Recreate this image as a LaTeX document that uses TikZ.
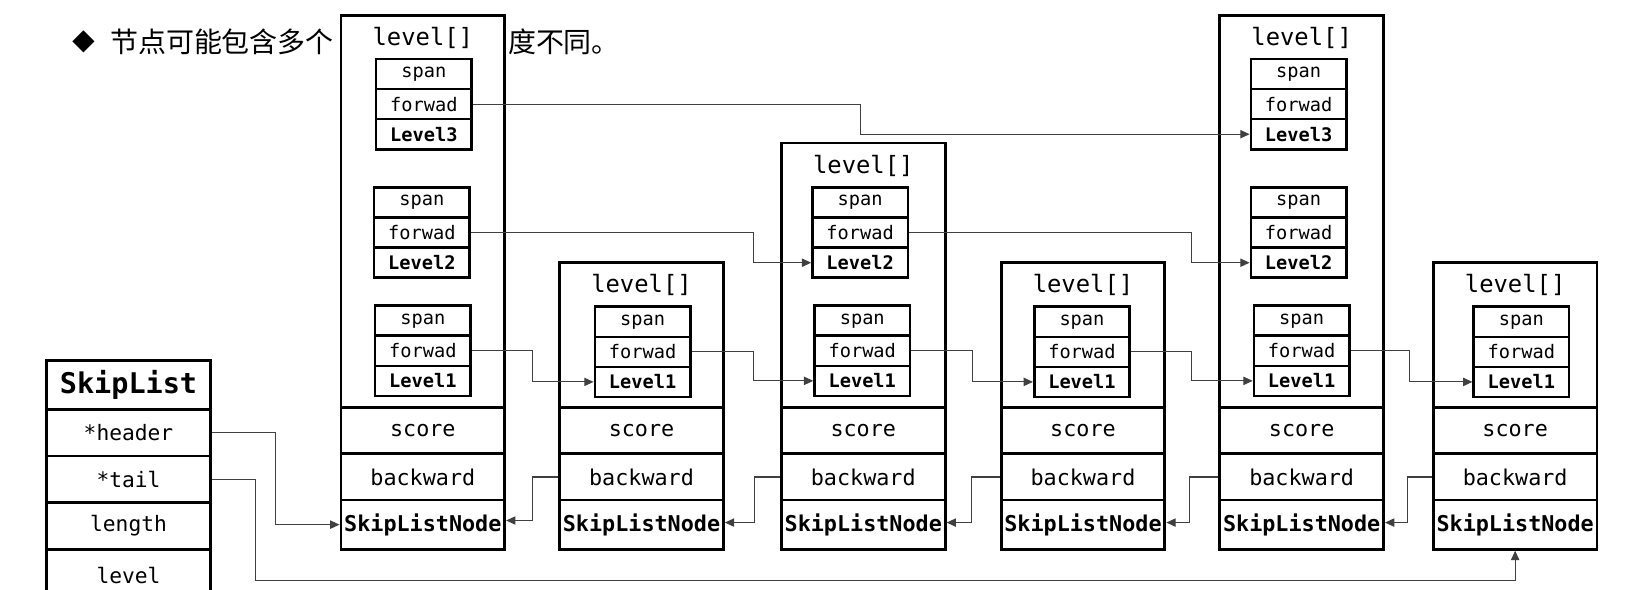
\documentclass[tikz,border=0pt]{standalone}
\usepackage{fontspec}
\setmonofont{DejaVu Sans Mono}
\newfontfamily\cjk{Noto Sans CJK SC}
\usetikzlibrary{arrows.meta}
\newcommand\mknode[3]{%
  \pgfmathsetmacro\cx{#2+79}%
  \pgfmathsetmacro\bh{530-#3}%
  \pgfmathsetmacro\by{(530+#3)/2}%
  \node[outerbox,minimum height=\bh pt] (#1) at (\cx,\by) {};
  \node[lvtitle] (#1t) at (\cx,#3+22) {level[]};
  \node[rowcell,minimum height=45pt] (#1s) at (\cx,415.5) {score};
  \node[rowcell,minimum height=44.5pt] (#1b) at (\cx,460.25) {backward};
  \node[rowcell,minimum height=47.5pt,font=\ttfamily\bfseries\fontsize{21}{21}\selectfont] (#1n) at (\cx,506.25) {SkipListNode};
}
\newcommand\mkgroup[4]{%
  \pgfmathsetmacro\gx{#2+46}%
  \node[cell] (#1s#4) at (\gx,#3+14.5) {span};
  \node[cell] (#1f#4) at (\gx,#3+43.5) {forwad};
  \node[bcell] (#1l#4) at (\gx,#3+72.5) {Level#4};
}
\begin{document}
\begin{tikzpicture}[x=1pt,y=-1pt,
  outerbox/.style={draw,line width=2.8pt,fill=white,minimum width=158pt,inner sep=0pt},
  lvtitle/.style={inner sep=0pt,font=\ttfamily\fontsize{23}{23}\selectfont},
  rowcell/.style={draw,line width=2.8pt,minimum width=158pt,inner sep=0pt,font=\ttfamily\fontsize{21}{21}\selectfont},
  cell/.style={draw,line width=2.5pt,fill=white,minimum width=92pt,minimum height=29pt,inner sep=0pt,font=\ttfamily\fontsize{18}{18}\selectfont},
  bcell/.style={cell,font=\ttfamily\bfseries\fontsize{18}{18}\selectfont},
  slcell/.style={draw,line width=2.8pt,minimum width=158pt,inner sep=0pt,font=\ttfamily\fontsize{20.5}{20.5}\selectfont},
  conn/.style={draw=black!75,line width=1.1pt,-{Triangle[length=9pt,width=8pt]}}
]
\useasboundingbox[fill=white] (0,0) rectangle (1568,569);
% title
\node[inner sep=0pt,font=\cjk\fontsize{22}{22}\selectfont] (diam) at (81,40) {◆};
\node[anchor=west,inner sep=0pt,font=\cjk\fontsize{27}{27}\selectfont] (title1) at (106,40) {节点可能包含多个};
\node[anchor=west,inner sep=0pt,font=\cjk\fontsize{27}{27}\selectfont] (title2) at (490,40) {度不同。};
% skip list nodes
\mknode{n1}{329}{15}
\mkgroup{n1}{363}{57}{3}
\mkgroup{n1}{361}{181}{2}
\mkgroup{n1}{362}{295}{1}
\mknode{n2}{540}{253}
\mkgroup{n2}{574}{296}{1}
\mknode{n3}{754}{138}
\mkgroup{n3}{784}{181}{2}
\mkgroup{n3}{786}{295}{1}
\mknode{n4}{966}{253}
\mkgroup{n4}{998}{296}{1}
\mknode{n5}{1177}{15}
\mkgroup{n5}{1207}{57}{3}
\mkgroup{n5}{1207}{181}{2}
\mkgroup{n5}{1210}{295}{1}
\mknode{n6}{1383}{253}
\mkgroup{n6}{1422}{296}{1}
% SkipList struct
\node[slcell,minimum height=47pt,font=\ttfamily\bfseries\fontsize{27.5}{27.5}\selectfont] (sl) at (124,371.5) {SkipList};
\node[slcell,minimum height=45pt] (slh) at (124,417.5) {*header};
\node[slcell,minimum height=45pt] (slt) at (124,462.5) {*tail};
\node[slcell,minimum height=45pt] (sll) at (124,507.5) {length};
\node[slcell,minimum height=50pt] (slv) at (124,555) {level};
% bend coordinates
\coordinate (b830) at (830,0);
\coordinate (b727) at (727,0);
\coordinate (b514) at (514,0);
\coordinate (b1150) at (1150,0);
\coordinate (b938) at (938,0);
\coordinate (b1360) at (1360,0);
\coordinate (k514) at (514,0);
\coordinate (k728) at (728,0);
\coordinate (k937) at (937,0);
\coordinate (k1148) at (1148,0);
\coordinate (k1358) at (1358,0);
\coordinate (hx) at (265.5,0);
\coordinate (tx) at (246.5,560);
% forward connectors
\draw[conn] (n1f3.east) -- (n1f3.east -| b830) -- (n5l3.west -| b830) -- (n5l3.west);
\draw[conn] (n1f2.east) -- (n1f2.east -| b727) -- (n3l2.west -| b727) -- (n3l2.west);
\draw[conn] (n1f1.east) -- (n1f1.east -| b514) -- (n2l1.west -| b514) -- (n2l1.west);
\draw[conn] (n2f1.east) -- (n2f1.east -| b727) -- (n3l1.west -| b727) -- (n3l1.west);
\draw[conn] (n3f2.east) -- (n3f2.east -| b1150) -- (n5l2.west -| b1150) -- (n5l2.west);
\draw[conn] (n3f1.east) -- (n3f1.east -| b938) -- (n4l1.west -| b938) -- (n4l1.west);
\draw[conn] (n4f1.east) -- (n4f1.east -| b1150) -- (n5l1.west -| b1150) -- (n5l1.west);
\draw[conn] (n5f1.east) -- (n5f1.east -| b1360) -- (n6l1.west -| b1360) -- (n6l1.west);
% backward connectors
\draw[conn] (n2b.west) -- (n2b.west -| k514) -- ([yshift=4pt]n1n.east -| k514) -- ([yshift=4pt]n1n.east);
\draw[conn] (n3b.west) -- (n3b.west -| k728) -- ([yshift=2pt]n2n.east -| k728) -- ([yshift=2pt]n2n.east);
\draw[conn] (n4b.west) -- (n4b.west -| k937) -- ([yshift=2pt]n3n.east -| k937) -- ([yshift=2pt]n3n.east);
\draw[conn] (n5b.west) -- (n5b.west -| k1148) -- ([yshift=2pt]n4n.east -| k1148) -- ([yshift=2pt]n4n.east);
\draw[conn] (n6b.west) -- (n6b.west -| k1358) -- ([yshift=2pt]n5n.east -| k1358) -- ([yshift=2pt]n5n.east);
% header / tail
\draw[conn] (slh.east) -- (slh.east -| hx) -- (n1n.west -| hx) -- (n1n.west);
\draw[conn] (slt.east) -- (slt.east -| tx) -- (tx) -- (tx -| n6n.south) -- (n6n.south);
\end{tikzpicture}
\end{document}
